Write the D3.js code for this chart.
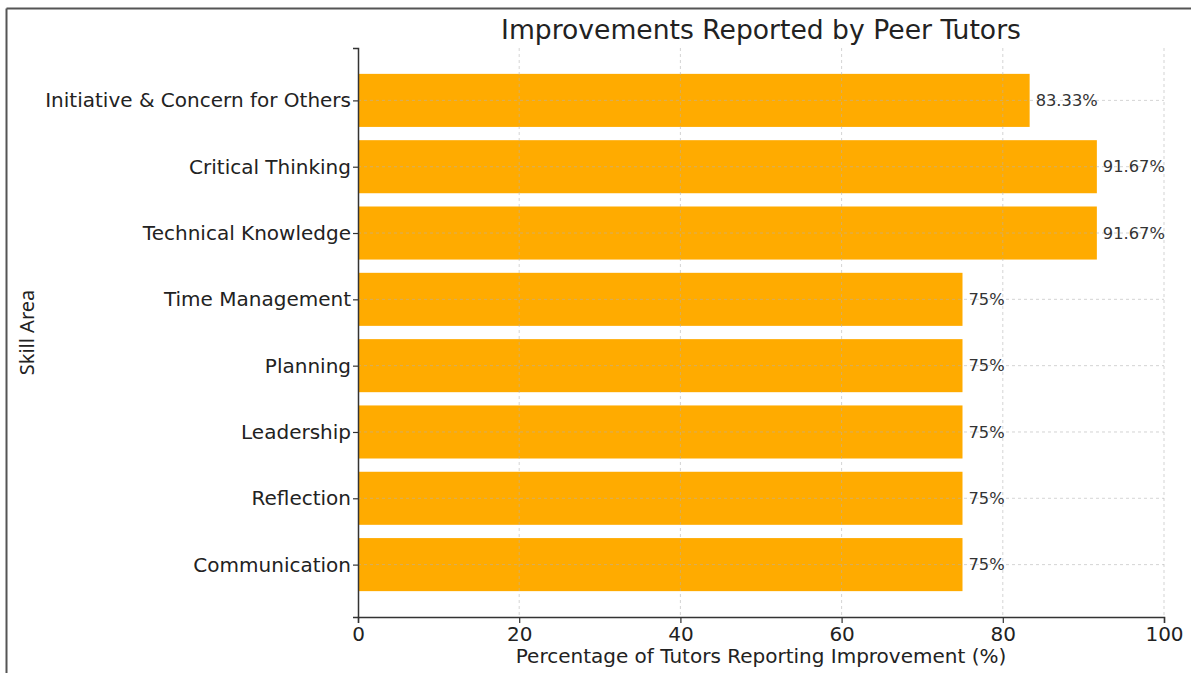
<!DOCTYPE html>
<html>
<head>
<meta charset="utf-8">
<script src="https://cdn.jsdelivr.net/npm/d3@7"></script>
<style>
  html, body { margin: 0; padding: 0; background: #fff; }
  svg { display: block; }
</style>
</head>
<body>
<svg id="chart" width="1191" height="673"></svg>
<script>
// Skill areas, top to bottom as drawn
const categories = [
  "Initiative & Concern for Others",
  "Critical Thinking",
  "Technical Knowledge",
  "Time Management",
  "Planning",
  "Leadership",
  "Reflection",
  "Communication"
];
// Percentage of tutors reporting improvement
const values = [83.33, 91.67, 91.67, 75, 75, 75, 75, 75];
const valueLabels = ["83.33%", "91.67%", "91.67%", "75%", "75%", "75%", "75%", "75%"];
const xTicks = [0, 20, 40, 60, 80, 100];

const svg = d3.select("#chart");
const W = 1191, H = 673;
const margin = { left: 358, right: W - 1164, top: 48, bottom: H - 617 };
const innerW = W - margin.left - margin.right;
const innerH = H - margin.top - margin.bottom;
const font = "DejaVu Sans, sans-serif";

// Image frame (top and left edges)
svg.append("line").attr("x1", 6.5).attr("x2", W).attr("y1", 8.5).attr("y2", 8.5)
  .attr("stroke", "#555").attr("stroke-width", 2);
svg.append("line").attr("x1", 6.5).attr("x2", 6.5).attr("y1", 8.5).attr("y2", H)
  .attr("stroke", "#555").attr("stroke-width", 2);

const g = svg.append("g").attr("transform", `translate(${margin.left},${margin.top})`);

const x = d3.scaleLinear().domain([0, 100]).range([0, innerW]);
// Category positions: bar half-height 0.4, plus 5% padding of the data span
const n = categories.length;
const lo = -0.4, hi = n - 1 + 0.4, pad = (hi - lo) * 0.05;
const yIdx = d3.scaleLinear().domain([lo - pad, hi + pad]).range([0, innerH]);
const barH = yIdx(0.8) - yIdx(0);

// Bars
g.selectAll("rect.bar").data(values).join("rect")
  .attr("class", "bar")
  .attr("x", x(0))
  .attr("y", (d, i) => yIdx(i - 0.4))
  .attr("width", d => x(d) - x(0))
  .attr("height", barH)
  .attr("fill", "#FFAB00");

// Grid lines (dashed, drawn over the bars)
const grid = g.append("g").attr("stroke", "#b0b0b0").attr("stroke-opacity", 0.55)
  .attr("stroke-dasharray", "3,3").attr("stroke-width", 1);
xTicks.filter(t => t > 0).forEach(t => {
  grid.append("line").attr("x1", x(t)).attr("x2", x(t)).attr("y1", 0).attr("y2", innerH);
});
categories.forEach((c, i) => {
  grid.append("line").attr("x1", 0).attr("x2", innerW).attr("y1", yIdx(i)).attr("y2", yIdx(i));
});

// Value labels
g.selectAll("text.val").data(values).join("text")
  .attr("class", "val")
  .attr("x", d => x(d) + 6)
  .attr("y", (d, i) => yIdx(i))
  .attr("dy", "0.35em")
  .attr("font-family", font)
  .attr("font-size", 16.3)
  .attr("fill", "#333")
  .text((d, i) => valueLabels[i]);

// X axis
const xAxis = g.append("g").attr("transform", `translate(0,${innerH})`)
  .call(d3.axisBottom(x).tickValues(xTicks).tickFormat(d3.format("d")).tickSizeOuter(0).tickSize(6).tickPadding(4));
xAxis.select(".domain").attr("stroke", "#333").attr("stroke-width", 1.5);
xAxis.selectAll(".tick line").attr("stroke", "#333").attr("stroke-width", 1.2);
xAxis.selectAll(".tick text").attr("font-family", font).attr("font-size", 20).attr("fill", "#222");

// Y axis
const yAxis = g.append("g")
  .call(d3.axisLeft(yIdx).tickValues(d3.range(n)).tickFormat(i => categories[i]).tickSizeOuter(0).tickSize(5).tickPadding(2));
yAxis.select(".domain").attr("stroke", "#333").attr("stroke-width", 1.5);
yAxis.selectAll(".tick line").attr("stroke", "#333").attr("stroke-width", 1.2);
yAxis.selectAll(".tick text").attr("font-family", font).attr("font-size", 20).attr("fill", "#222");

// Title
svg.append("text")
  .attr("x", margin.left + innerW / 2).attr("y", 39)
  .attr("text-anchor", "middle")
  .attr("font-family", font).attr("font-size", 26.6).attr("fill", "#222")
  .text("Improvements Reported by Peer Tutors");

// Axis titles
svg.append("text")
  .attr("x", margin.left + innerW / 2).attr("y", 663)
  .attr("text-anchor", "middle")
  .attr("font-family", font).attr("font-size", 20).attr("fill", "#222")
  .text("Percentage of Tutors Reporting Improvement (%)");

svg.append("text")
  .attr("transform", `translate(34,${margin.top + innerH / 2}) rotate(-90)`)
  .attr("text-anchor", "middle")
  .attr("font-family", "Noto Sans, sans-serif").attr("font-size", 20).attr("fill", "#222")
  .text("Skill Area");
</script>
</body>
</html>
